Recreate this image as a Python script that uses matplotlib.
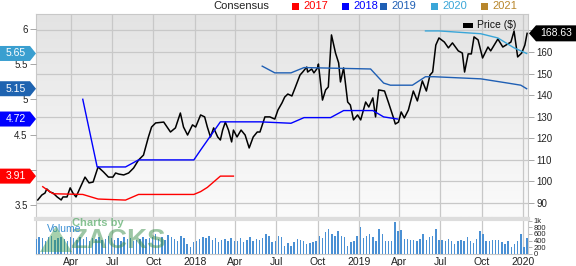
import numpy as np
import pandas as pd
import matplotlib
matplotlib.use("Agg")
import matplotlib.pyplot as plt
from matplotlib.patches import Polygon, Rectangle

plt.rcParams['font.family'] = ['Liberation Sans', 'DejaVu Sans']

# ---- data ----
price_dates = [
    '2017-01-17', '2017-01-26', '2017-02-02', '2017-02-06', '2017-02-13', '2017-02-20',
    '2017-03-01', '2017-03-10', '2017-03-14', '2017-03-23', '2017-03-30', '2017-04-05',
    '2017-04-12', '2017-04-21', '2017-05-02', '2017-05-11', '2017-05-20', '2017-05-31',
    '2017-06-12', '2017-06-23', '2017-07-03', '2017-07-09', '2017-07-16', '2017-07-27',
    '2017-08-07', '2017-08-18', '2017-08-29', '2017-09-09', '2017-09-14', '2017-09-20',
    '2017-09-27', '2017-10-06', '2017-10-24', '2017-11-08', '2017-11-19', '2017-11-30',
    '2017-12-07', '2017-12-16', '2017-12-27', '2018-01-03', '2018-01-14', '2018-01-23',
    '2018-01-29', '2018-02-05', '2018-02-12', '2018-02-21', '2018-02-27', '2018-03-04',
    '2018-03-10', '2018-03-17', '2018-03-24', '2018-03-28', '2018-04-05', '2018-04-14',
    '2018-04-23', '2018-05-02', '2018-05-11', '2018-05-20', '2018-05-26', '2018-06-06',
    '2018-06-17', '2018-06-28', '2018-07-05', '2018-07-14', '2018-07-20', '2018-07-27',
    '2018-08-05', '2018-08-12', '2018-08-23', '2018-08-29', '2018-09-07', '2018-09-09',
    '2018-09-18', '2018-09-23', '2018-10-01', '2018-10-03', '2018-10-12', '2018-10-19',
    '2018-10-25', '2018-11-01', '2018-11-10', '2018-11-17', '2018-11-21', '2018-11-28',
    '2018-12-07', '2018-12-13', '2018-12-20', '2018-12-29', '2019-01-05', '2019-01-16',
    '2019-01-23', '2019-02-01', '2019-02-07', '2019-02-14', '2019-02-27', '2019-03-08',
    '2019-03-19', '2019-03-23', '2019-03-30', '2019-04-05', '2019-04-12', '2019-04-21',
    '2019-05-02', '2019-05-11', '2019-05-22', '2019-05-31', '2019-06-08', '2019-06-14',
    '2019-06-21', '2019-06-28', '2019-07-10', '2019-07-19', '2019-07-28', '2019-08-10',
    '2019-08-19', '2019-08-24', '2019-09-01', '2019-09-08', '2019-09-14', '2019-09-23',
    '2019-10-03', '2019-10-15', '2019-10-21', '2019-11-06', '2019-11-17', '2019-11-28',
    '2019-12-05', '2019-12-12', '2019-12-20', '2019-12-29', '2020-01-05', '2020-01-10',
]
price = [
    91.4, 93.7, 94.6, 96.5, 95.1, 94.6,
    92.8, 91.4, 92.8, 92.8, 97.0, 94.6,
    92.8, 97.0, 102.0, 99.3, 99.7, 106.7,
    104.4, 102.0, 102.0, 103.9, 103.4, 103.0,
    103.9, 106.2, 109.9, 112.2, 116.0, 120.6,
    125.2, 127.1, 127.5, 122.9, 124.8, 131.7,
    125.2, 121.5, 126.2, 125.2, 130.8, 129.9,
    125.2, 120.6, 124.8, 120.6, 119.2, 123.8,
    127.5, 123.8, 118.3, 123.8, 120.6, 123.8,
    121.5, 115.5, 120.6, 122.9, 122.9, 129.9,
    129.9, 128.9, 133.1, 136.4, 139.1, 140.5,
    139.6, 143.3, 149.3, 150.7, 153.0, 150.7,
    152.1, 150.3, 152.6, 154.4, 137.7, 142.4,
    143.8, 167.9, 159.5, 154.9, 146.1, 152.6,
    136.8, 135.4, 128.5, 130.8, 128.5, 136.8,
    134.5, 138.7, 129.9, 142.4, 141.9, 136.4,
    129.4, 126.6, 127.5, 132.2, 129.4, 133.1,
    141.9, 137.3, 146.6, 141.9, 149.3, 150.7,
    163.2, 166.5, 164.6, 161.9, 164.2, 160.5,
    159.5, 150.7, 159.1, 159.1, 167.0, 165.6,
    157.2, 162.3, 160.5, 166.0, 162.3, 163.7,
    164.6, 169.7, 157.7, 159.5, 163.2, 168.63,
]

eps2017_dates = ['2017-01-28', '2017-02-08', '2017-02-20', '2017-04-27', '2017-05-31',
                 '2017-07-31', '2017-08-29', '2017-12-30', '2018-01-14', '2018-01-29',
                 '2018-02-27', '2018-03-28']
eps2017 = [3.76, 3.71, 3.66, 3.65, 3.585, 3.57, 3.65, 3.65, 3.69, 3.75, 3.91, 3.91]

eps2018_dates = ['2017-04-27', '2017-05-29', '2017-07-31', '2017-08-29', '2017-12-30',
                 '2018-01-14', '2018-02-27', '2018-05-26', '2018-08-03', '2018-09-01',
                 '2018-10-30', '2018-11-28', '2019-02-01', '2019-02-25', '2019-03-28']
eps2018 = [5.0, 4.04, 4.04, 4.14, 4.14, 4.28, 4.68, 4.68, 4.66, 4.74, 4.74, 4.84, 4.84,
           4.75, 4.72]

eps2019_dates = ['2018-05-31', '2018-06-28', '2018-08-03', '2018-09-01', '2019-01-27',
                 '2019-02-25', '2019-03-12', '2019-04-30', '2019-05-29', '2019-06-17',
                 '2019-09-29', '2019-11-28', '2019-12-27', '2020-01-09']
eps2019 = [5.47, 5.375, 5.375, 5.45, 5.43, 5.23, 5.2, 5.2, 5.32, 5.32, 5.29, 5.23, 5.2, 5.15]

eps2020_dates = ['2019-05-29', '2019-06-28', '2019-09-29', '2019-11-06', '2019-12-12',
                 '2020-01-09']
eps2020 = [5.97, 5.97, 5.93, 5.87, 5.73, 5.65]

vol_start = '2017-01-13'
volume = [
    450, 520, 480, 400, 500, 550, 420, 480, 500, 450, 380, 520,
    480, 430, 500, 460, 520, 400, 480, 450, 500, 420, 460, 540, 480,
    430, 480, 400, 500, 450, 470, 380, 420, 460, 500, 440, 480, 520,
    600, 450, 500, 420, 580, 520, 460, 400, 550, 480, 300, 220, 350,
    380, 450, 500, 480, 550, 420, 480, 350, 420, 450, 400, 480, 380,
    400, 480, 350, 420, 500, 380, 450, 420, 480, 600, 550, 350, 400,
    550, 520, 250, 320, 250, 350, 450, 420, 400, 300, 320, 350, 380,
    550, 480, 650, 750, 600, 550, 680, 550, 500, 250, 350, 400, 550,
    820, 480, 550, 600, 520, 400, 750, 600, 400, 380, 380, 970, 700,
    720, 450, 450, 430, 420, 400, 450, 600, 420, 500, 550, 750, 420,
    420, 380, 450, 400, 300, 400, 420, 380, 520, 400, 320, 450, 700,
    600, 400, 380, 420, 420, 420, 350, 300, 400, 220, 300, 400, 600,
    200, 480,
]

quarter_ticks = ['2017-04-01', '2017-07-01', '2017-10-01', '2018-01-01', '2018-04-01',
                 '2018-07-01', '2018-10-01', '2019-01-01', '2019-04-01', '2019-07-01',
                 '2019-10-01', '2020-01-01']
quarter_labels = ['Apr', 'Jul', 'Oct', '2018', 'Apr', 'Jul', 'Oct', '2019', 'Apr', 'Jul',
                  'Oct', '2020']

price_ticks = [90, 100, 110, 120, 130, 140, 150, 160, 170]
price_labels = ['90', '100', '110', '120', '130', '140', '150', '160', '']
eps_ticks = [3.5, 4, 4.5, 5, 5.5, 6]
eps_labels = ['3.5', '', '4.5', '5', '5.5', '6']

C2017 = '#ff0000'
C2018 = '#0000ff'
C2019 = '#1f5fb4'
C2020 = '#3aa6d8'
C2021 = '#b8862b'

W, H = 576, 266
fig = plt.figure(figsize=(W / 100, H / 100), dpi=100)


def fx(px):
    return px / W


def fy(py):
    return 1 - py / H


ax = fig.add_axes([fx(36), fy(217), fx(528) - fx(36), fy(14) - fy(217)])
axv = fig.add_axes([fx(36), fy(254), fx(528) - fx(36), fy(219) - fy(254)], sharex=ax)
ax2 = ax.twinx()

xmin, xmax = pd.Timestamp('2017-01-13'), pd.Timestamp('2020-01-12')

# gradient background
grad = np.linspace(0, 1, 200).reshape(-1, 1)
ax.set_facecolor('none')
ax.imshow(grad, cmap=matplotlib.colors.LinearSegmentedColormap.from_list(
    'bg', ['#e3e3e3', '#fbfbfb']), extent=[0, 1, 0, 1], transform=ax.transAxes,
    aspect='auto', zorder=0)

# price on the main axes, scale on the right
ax.plot(pd.to_datetime(price_dates), price, color='black', lw=1.1, zorder=4)
ax.set_xlim(xmin, xmax)
ax.set_ylim(83.5, 177.6)
ax.set_yticks(price_ticks)
ax.set_yticklabels(price_labels)
ax.set_xticks(pd.to_datetime(quarter_ticks))
ax.tick_params(axis='x', length=0, labelbottom=False)
ax.tick_params(axis='y', which='both', left=False, labelleft=False, right=True,
               labelright=True, length=4, width=0.6, color='#999999', labelsize=7,
               pad=2, labelcolor='#222222')
ax.grid(True, color='#c8c8c8', lw=0.9, zorder=1)
for s in ax.spines.values():
    s.set_color('#c8c8c8')
    s.set_linewidth(0.8)

# consensus estimates on the twin, scale on the left
ax2.plot(pd.to_datetime(eps2017_dates), eps2017, color=C2017, lw=1)
ax2.plot(pd.to_datetime(eps2018_dates), eps2018, color=C2018, lw=1)
ax2.plot(pd.to_datetime(eps2019_dates), eps2019, color=C2019, lw=1)
ax2.plot(pd.to_datetime(eps2020_dates), eps2020, color=C2020, lw=1)
ax2.set_ylim(3.33, 6.21)
ax2.set_yticks(eps_ticks)
ax2.set_yticklabels(eps_labels)
ax2.tick_params(axis='y', which='both', left=True, labelleft=True, right=False,
                labelright=False, length=4, width=0.6, color='#999999', labelsize=7,
                pad=2, labelcolor='#222222')
for s in ax2.spines.values():
    s.set_visible(False)
ax2.set_xlim(xmin, xmax)

# volume
vdates = pd.date_range(vol_start, periods=len(volume), freq='7D')
axv.bar(vdates, volume, width=3.2, color='#4a90d4', zorder=3)
axv.set_xlim(xmin, xmax)
axv.set_ylim(0, 1050)
axv.yaxis.tick_right()
axv.set_yticks([0, 200, 400, 600, 800, 1000])
axv.set_yticklabels(['0', '200', '400', '600', '800', '1k'])
axv.tick_params(axis='y', length=3, width=0.5, color='#999999', labelsize=5.5, pad=1,
                labelcolor='#222222')
axv.set_xticks(pd.to_datetime(quarter_ticks))
axv.set_xticklabels(quarter_labels)
axv.tick_params(axis='x', length=0, labelsize=7.5, pad=2, labelcolor='#222222')
axv.grid(True, axis='x', color='#c8c8c8', lw=0.9, zorder=1)
axv.set_facecolor('white')
for k, s in axv.spines.items():
    s.set_color('#c8c8c8')
    s.set_linewidth(0.8)
axv.spines['top'].set_linewidth(3)
axv.spines['top'].set_color('#dddddd')

# watermark
fig.patches.append(Polygon([[fx(40), fy(252)], [fx(56), fy(226)], [fx(72), fy(252)]],
                           closed=True, transform=fig.transFigure, fc='#3a9a4a',
                           alpha=0.45, ec='none', zorder=5))
fig.text(fx(72), fy(223), 'Charts by', fontsize=8, color='#55aa66', alpha=0.7,
         va='center', ha='left', fontweight='bold')
fig.text(fx(70), fy(241), 'ZACKS', fontsize=20, color='#3a8f4a', alpha=0.5,
         va='center', ha='left', fontweight='bold')
fig.text(fx(47), fy(229), 'Volume', fontsize=7.5, color='#3a8fd4', va='center', ha='left')

fig.canvas.draw()


def eps_to_py(v):
    d = ax2.transData.transform((0, v))
    return H - d[1]


def left_badge(v, color, label):
    py = eps_to_py(v)
    pts = [[0, py - 7.5], [30, py - 7.5], [36, py], [30, py + 7.5], [0, py + 7.5]]
    fig.patches.append(Polygon([[fx(a), fy(b)] for a, b in pts], closed=True,
                               transform=fig.transFigure, fc=color, ec='none', zorder=6))
    fig.text(fx(16), fy(py), label, fontsize=7.5, color='white', ha='center',
             va='center', zorder=7)


left_badge(5.65, '#3a9fd0', '5.65')
left_badge(5.15, '#1e63b0', '5.15')
left_badge(4.72, '#0000ff', '4.72')
left_badge(3.91, '#ff0000', '3.91')

# right badge for last price
d = ax.transData.transform((0, 168.63))
py = H - d[1]
pts = [[529, py], [536, py - 8], [576, py - 8], [576, py + 8], [536, py + 8]]
fig.patches.append(Polygon([[fx(a), fy(b)] for a, b in pts], closed=True,
                           transform=fig.transFigure, fc='black', ec='none', zorder=6))
fig.text(fx(556), fy(py), '168.63', fontsize=7.5, color='white', ha='center',
         va='center', zorder=7)

# top legend
fig.text(fx(213), fy(6), 'Consensus', fontsize=8, color='#222222', ha='left', va='center')
leg = [(292, C2017, '2017'), (342, C2018, '2018'), (380, C2019, '2019'),
       (431, C2020, '2020'), (481, C2021, '2021')]
for px, col, lab in leg:
    fig.patches.append(Rectangle((fx(px), fy(9.5)), fx(7), 7 / H,
                                 transform=fig.transFigure, fc=col, ec='none'))
    fig.text(fx(px + 11), fy(6), lab, fontsize=8, color=col, ha='left', va='center')

# price legend
fig.patches.append(Rectangle((fx(463), fy(28)), fx(10), 5 / H,
                             transform=fig.transFigure, fc='black', ec='none', zorder=6))
fig.text(fx(477), fy(25.5), 'Price ($)', fontsize=7.5, color='#111111', ha='left',
         va='center', zorder=6)

fig.savefig('out.png', dpi=100)
